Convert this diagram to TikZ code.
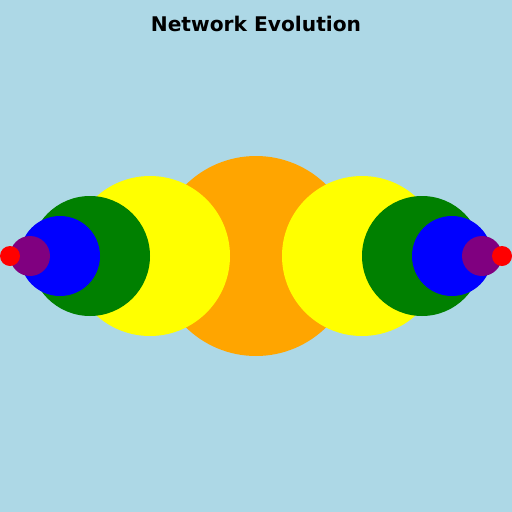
\documentclass[tikz,border=0pt]{standalone}
\usepackage{fontspec}
\setmainfont{DejaVu Sans}
\definecolor{bgblue}{HTML}{ADD8E6}
\definecolor{corange}{HTML}{FFA500}
\definecolor{cyellow}{HTML}{FFFF00}
\definecolor{cgreen}{HTML}{008000}
\definecolor{cblue}{HTML}{0000FF}
\definecolor{cpurple}{HTML}{800080}
\definecolor{cred}{HTML}{FF0000}
\begin{document}
\begin{tikzpicture}[x=1pt,y=-1pt,
  dot/.style={circle,draw=none,inner sep=0pt,outer sep=0pt}]
\fill[bgblue] (0,0) rectangle (512,512);
\useasboundingbox (0,0) rectangle (512,512);
\node[font=\bfseries\fontsize{20.2}{24}\selectfont] (title) at (256,24) {Network Evolution};
\node[dot,fill=corange,minimum size=200pt] (o) at (256,256) {};
\node[dot,fill=cyellow,minimum size=160pt] (yl) at (150,256) {};
\node[dot,fill=cyellow,minimum size=160pt] (yr) at (362,256) {};
\node[dot,fill=cgreen,minimum size=120pt] (gl) at (90,256) {};
\node[dot,fill=cgreen,minimum size=120pt] (gr) at (422,256) {};
\node[dot,fill=cblue,minimum size=80pt] (bl) at (60,256) {};
\node[dot,fill=cblue,minimum size=80pt] (br) at (452,256) {};
\node[dot,fill=cpurple,minimum size=40pt] (pl) at (30,256) {};
\node[dot,fill=cpurple,minimum size=40pt] (pr) at (482,256) {};
\node[dot,fill=cred,minimum size=20pt] (rl) at (10,256) {};
\node[dot,fill=cred,minimum size=20pt] (rr) at (502,256) {};
\end{tikzpicture}
\end{document}
